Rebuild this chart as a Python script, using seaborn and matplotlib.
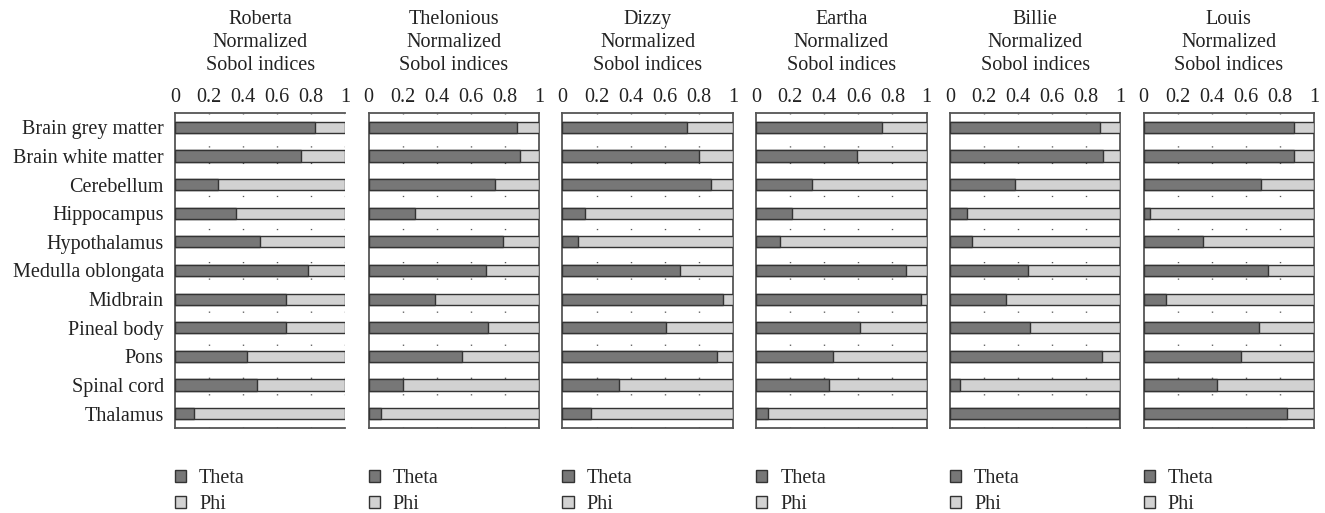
import matplotlib
matplotlib.use("Agg")
import matplotlib.pyplot as plt
from matplotlib.patches import Patch
import seaborn as sns
import pandas as pd
import numpy as np

# Brain regions (top to bottom)
regions = [
    "Brain grey matter", "Brain white matter", "Cerebellum", "Hippocampus",
    "Hypothalamus", "Medulla oblongata", "Midbrain", "Pineal body", "Pons",
    "Spinal cord", "Thalamus",
]

subjects = ["Roberta", "Thelonious", "Dizzy", "Eartha", "Billie", "Louis"]

# Normalized first-order Sobol index of Theta for each region; Phi is the remainder
theta_roberta    = [0.82, 0.74, 0.25, 0.36, 0.50, 0.78, 0.65, 0.65, 0.42, 0.48, 0.11]
theta_thelonious = [0.87, 0.89, 0.74, 0.27, 0.79, 0.69, 0.39, 0.70, 0.55, 0.20, 0.07]
theta_dizzy      = [0.73, 0.80, 0.87, 0.13, 0.09, 0.69, 0.94, 0.61, 0.91, 0.33, 0.17]
theta_eartha     = [0.74, 0.59, 0.33, 0.21, 0.14, 0.88, 0.97, 0.61, 0.45, 0.43, 0.07]
theta_billie     = [0.88, 0.90, 0.38, 0.10, 0.13, 0.46, 0.33, 0.47, 0.89, 0.06, 0.99]
theta_louis      = [0.88, 0.88, 0.69, 0.04, 0.35, 0.73, 0.13, 0.68, 0.57, 0.43, 0.84]

theta_all = [theta_roberta, theta_thelonious, theta_dizzy,
             theta_eartha, theta_billie, theta_louis]

xticks = [0, 0.2, 0.4, 0.6, 0.8, 1]
xtick_labels = ["0", "0.2", "0.4", "0.6", "0.8", "1"]

THETA_COLOR = "#777777"
PHI_COLOR = "#d2d2d2"
EDGE = "#333333"
SPINE = "#555555"
TEXT = "#222222"

sns.set_theme(style="white")
plt.rcParams["font.family"] = ["Liberation Serif", "DejaVu Serif"]

fig, axes = plt.subplots(1, 6, figsize=(13.25, 5.13), dpi=100, sharey=True)
fig.subplots_adjust(left=175 / 1325, right=1314 / 1325, top=1 - 113 / 513,
                    bottom=1 - 428 / 513, wspace=0.137)

FS = 14.5

for i, (ax, name, theta) in enumerate(zip(axes, subjects, theta_all)):
    df = pd.DataFrame({"region": regions,
                       "theta": theta,
                       "total": np.ones(len(regions))})
    # Full-length bar (Theta + Phi = 1) in the Phi colour, Theta drawn over it
    sns.barplot(data=df, x="total", y="region", orient="h", order=regions,
                color=PHI_COLOR, saturation=1, width=0.39,
                edgecolor=EDGE, linewidth=1.0, ax=ax, zorder=3)
    sns.barplot(data=df, x="theta", y="region", orient="h", order=regions,
                color=THETA_COLOR, saturation=1, width=0.39,
                edgecolor=EDGE, linewidth=1.0, ax=ax, zorder=4)

    ax.set_xlim(0, 1)
    ax.set_ylim(len(regions) - 0.5, -0.5)
    ax.set_xlabel("")
    ax.set_ylabel("")
    ax.xaxis.tick_top()
    ax.set_xticks(xticks)
    ax.set_xticklabels(xtick_labels)
    ax.tick_params(axis="x", length=0, pad=4, labelsize=FS, colors=TEXT)
    ax.tick_params(axis="y", length=0, pad=8, labelsize=FS, colors=TEXT)

    ax.grid(False)
    for xv in xticks[1:]:
        ax.axvline(xv, color="#555555", lw=1.0, linestyle=(0, (0.9, 11)), zorder=1)

    for side, sp in ax.spines.items():
        sp.set_color(SPINE)
        sp.set_linewidth(1.3)
        sp.set_visible(True)
    if i == 0:
        ax.spines["right"].set_visible(False)

    ax.set_title(f"{name}\nNormalized\nSobol indices", fontsize=FS,
                 color=TEXT, pad=31, linespacing=1.28)

    handles = [Patch(facecolor=THETA_COLOR, edgecolor=EDGE, linewidth=1.0, label="Theta"),
               Patch(facecolor=PHI_COLOR, edgecolor=EDGE, linewidth=1.0, label="Phi")]
    ax.legend(handles=handles, loc="upper left", bbox_to_anchor=(0.0, -0.13),
              frameon=False, fontsize=FS, handlelength=0.55, handleheight=0.55,
              handletextpad=0.65, labelspacing=0.36, borderaxespad=0, borderpad=0)

fig.savefig("out.png", dpi=100)
